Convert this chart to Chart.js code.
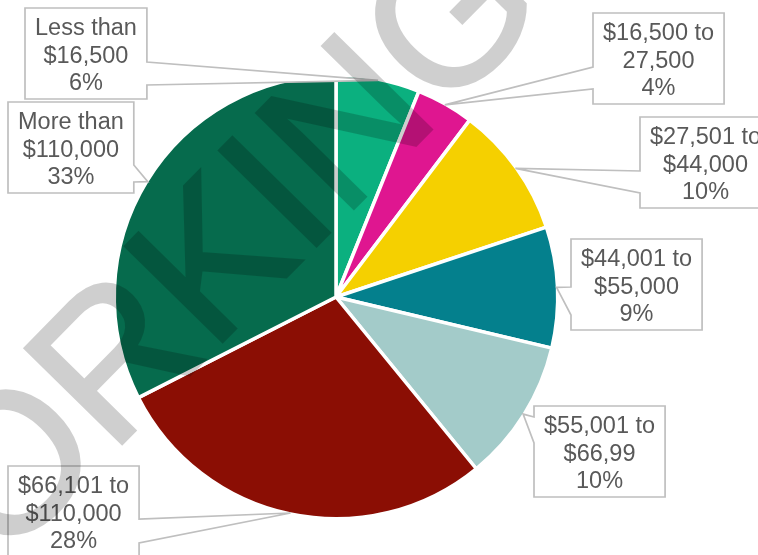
<!DOCTYPE html>
<html>
<head>
<meta charset="utf-8">
<script src="https://cdn.jsdelivr.net/npm/chart.js@4.4.1/dist/chart.umd.min.js"></script>
<style>
    body { margin: 0; background: #ffffff; }
    canvas { display: block; }
</style>
</head>
<body>
<canvas id="chart" width="758" height="555"></canvas>
<script>
// income bands, clockwise from 12 o'clock
const categories = [
    ["Less than", "$16,500"],
    ["$16,500 to", "27,500"],
    ["$27,501 to", "$44,000"],
    ["$44,001 to", "$55,000"],
    ["$55,001 to", "$66,99"],
    ["$66,101 to", "$110,000"],
    ["More than", "$110,000"]
];
const shares = [6.1, 4.2, 9.6, 8.8, 10.4, 28.4, 32.5];
const shareLabels = ["6%", "4%", "10%", "9%", "10%", "28%", "33%"];
const sliceColors = ["#0bb07f", "#df1690", "#f5d000", "#04808d", "#a3cbc9", "#8b0e04", "#066b4d"];

// callout boxes: top-left corner, side of the pointer, pointer base (offset from box top)
const callouts = [
    { x: 25,  y: 8,   side: "right", base: [54, 77] },
    { x: 593, y: 13,  side: "left",  base: [54, 76] },
    { x: 640, y: 117, side: "left",  base: [54, 76] },
    { x: 571, y: 239, side: "left",  base: [48, 76] },
    { x: 534, y: 406, side: "left",  base: [11, 37] },
    { x: 8,   y: 466, side: "right", base: [53, 77] },
    { x: 8,   y: 102, side: "right", base: [63, 80] }
];

const labelFont = "23.5px 'Liberation Sans', Arial, sans-serif";
const lineGap = 27.5;
const boxPad = 10;
const boxHeight = 91;

const calloutPlugin = {
    id: "callouts",
    afterDatasetsDraw(chart) {
        const ctx = chart.ctx;
        const arcs = chart.getDatasetMeta(0).data;
        ctx.save();
        ctx.font = labelFont;
        arcs.forEach((arc, i) => {
            const p = arc.getProps(["x", "y", "startAngle", "endAngle", "outerRadius"], true);
            const mid = (p.startAngle + p.endAngle) / 2;
            const r = p.outerRadius - 1;
            const tipX = p.x + Math.cos(mid) * r;
            const tipY = p.y + Math.sin(mid) * r;

            const lines = categories[i].concat(shareLabels[i]);
            const w = Math.max(...lines.map(t => ctx.measureText(t).width)) + boxPad * 2;
            const c = callouts[i];
            const left = c.x, top = c.y, right = c.x + w, bottom = c.y + boxHeight;

            ctx.beginPath();
            ctx.moveTo(left, top);
            ctx.lineTo(right, top);
            if (c.side === "right") {
                ctx.lineTo(right, top + c.base[0]);
                ctx.lineTo(tipX, tipY);
                ctx.lineTo(right, top + c.base[1]);
            }
            ctx.lineTo(right, bottom);
            ctx.lineTo(left, bottom);
            if (c.side === "left") {
                ctx.lineTo(left, top + c.base[1]);
                ctx.lineTo(tipX, tipY);
                ctx.lineTo(left, top + c.base[0]);
            }
            ctx.closePath();
            ctx.fillStyle = "#ffffff";
            ctx.fill();
            ctx.strokeStyle = "#bfbfbf";
            ctx.lineWidth = 1.7;
            ctx.stroke();

            ctx.fillStyle = "#595959";
            ctx.textAlign = "center";
            ctx.textBaseline = "alphabetic";
            lines.forEach((t, j) => {
                ctx.fillText(t, left + w / 2, top + 27 + j * lineGap);
            });
        });
        ctx.restore();
    }
};

// big diagonal "WORKING" stamp laid over the whole picture
const watermarkPlugin = {
    id: "watermark",
    afterDraw(chart) {
        const ctx = chart.ctx;
        const word = "WORKING";
        const oCenter = { x: 8, y: 462 };
        const gCenter = { x: 448, y: 15 };

        // draw solid on a spare canvas first, so fill + stroke don't stack alpha
        const off = document.createElement("canvas");
        off.width = chart.width;
        off.height = chart.height;
        const oc = off.getContext("2d");

        oc.font = "200px 'Liberation Sans', Arial, sans-serif";
        const oOff = oc.measureText("W").width + oc.measureText("O").width / 2;
        const gOff = oc.measureText("WORKIN").width + oc.measureText("G").width / 2;
        const dist = Math.hypot(gCenter.x - oCenter.x, gCenter.y - oCenter.y);
        const size = 200 * dist / (gOff - oOff);
        oc.font = size + "px 'Liberation Sans', Arial, sans-serif";
        const scale = size / 200;
        const capH = oc.measureText("I").actualBoundingBoxAscent;

        oc.translate(oCenter.x, oCenter.y);
        oc.rotate(Math.atan2(gCenter.y - oCenter.y, gCenter.x - oCenter.x));
        oc.fillStyle = "#000000";
        oc.strokeStyle = "#000000";
        oc.lineWidth = 3;
        oc.lineJoin = "miter";
        oc.fillText(word, -oOff * scale, capH / 2);
        oc.strokeText(word, -oOff * scale, capH / 2);

        ctx.save();
        ctx.globalAlpha = 0.19;
        ctx.drawImage(off, 0, 0);
        ctx.restore();
    }
};

const ctx = document.getElementById("chart").getContext("2d");
const myChart = new Chart(ctx, {
    type: "pie",
    data: {
        labels: categories.map(c => c.join(" ")),
        datasets: [{
            data: shares,
            backgroundColor: sliceColors,
            borderColor: "#ffffff",
            borderWidth: 3.5,
            offset: 0,
            hoverOffset: 0
        }]
    },
    options: {
        responsive: false,
        animation: false,
        rotation: 0,
        layout: {
            padding: { left: 112.5, right: 198.5, top: 73.5, bottom: 34.5 }
        },
        plugins: {
            legend: { display: false },
            tooltip: { enabled: false }
        }
    },
    plugins: [calloutPlugin, watermarkPlugin]
});
</script>
</body>
</html>
